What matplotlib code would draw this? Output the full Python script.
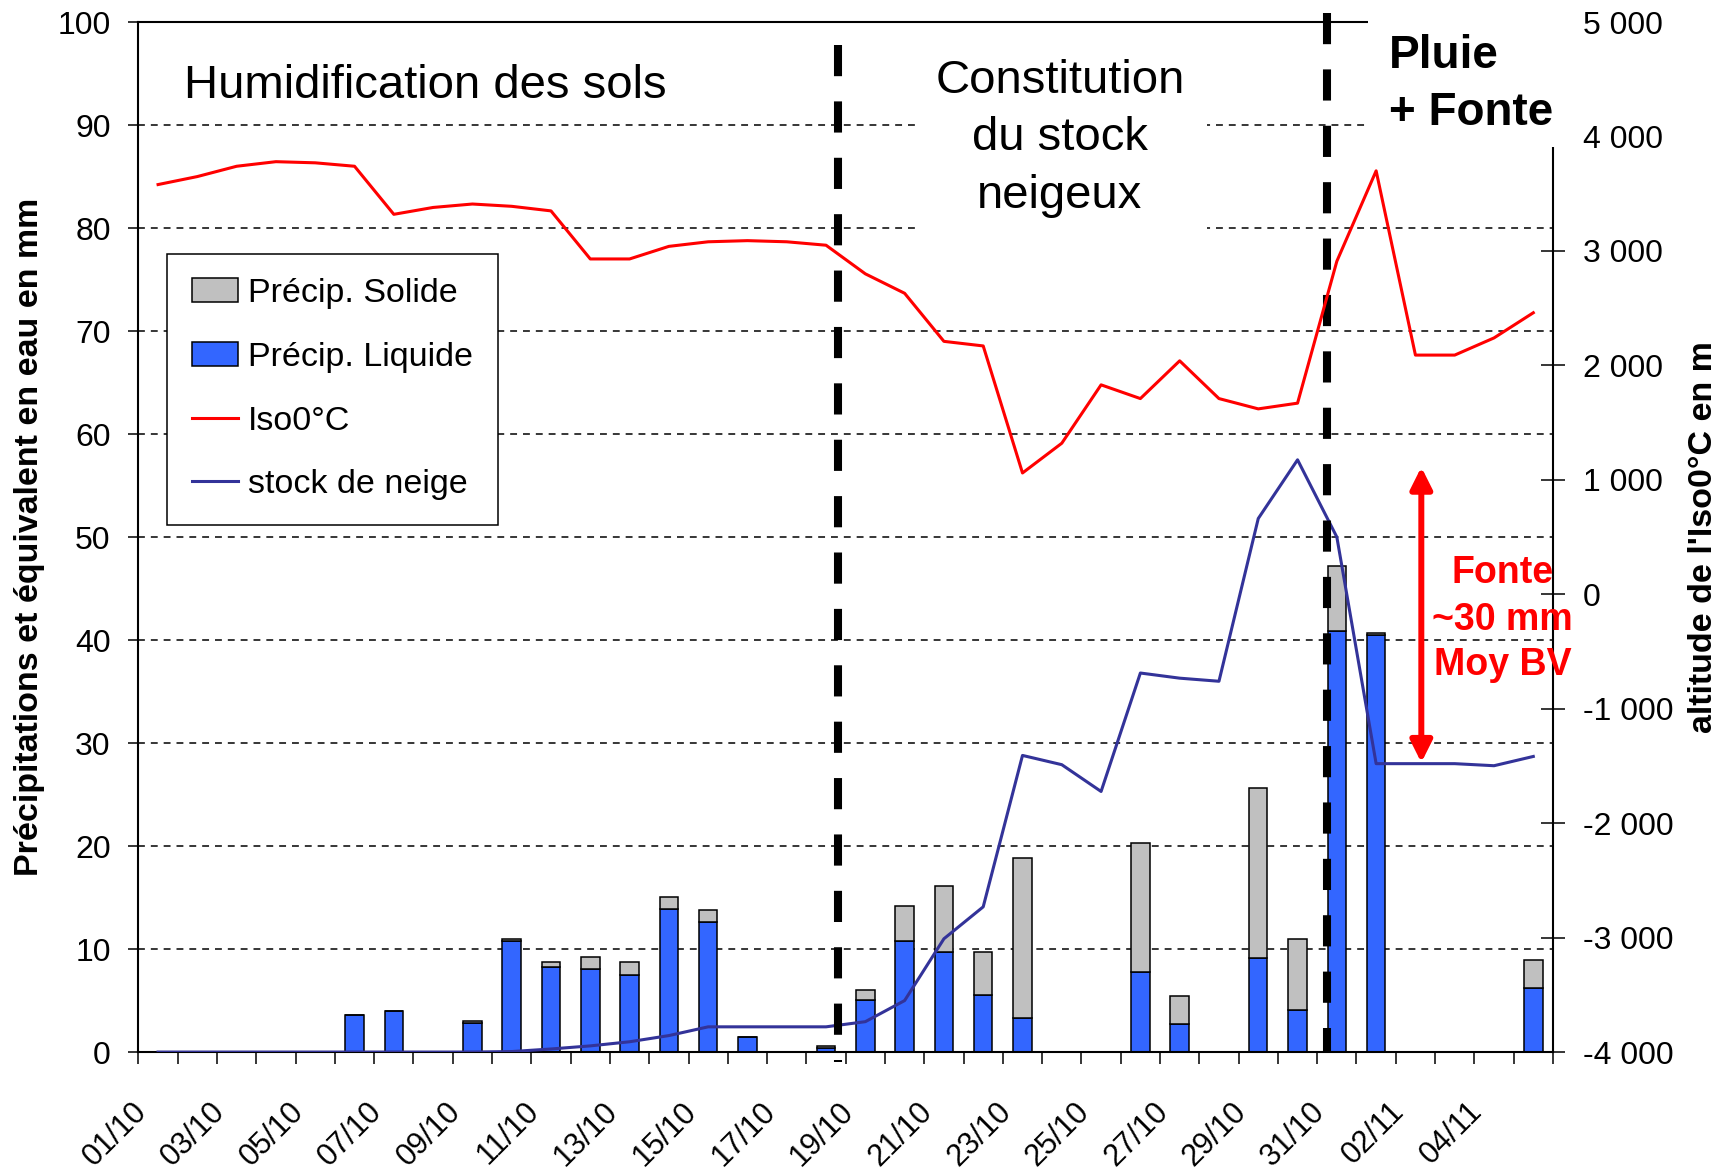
import matplotlib
matplotlib.use("Agg")
import matplotlib.pyplot as plt
import matplotlib.transforms as mtransforms
import numpy as np
from matplotlib.lines import Line2D
from matplotlib.patches import FancyArrowPatch, Patch, Rectangle
from matplotlib.ticker import FuncFormatter

plt.rcParams["font.family"] = ["Liberation Sans", "DejaVu Sans"]

# daily series, 01/10 -> 05/11
days = ["01/10", "02/10", "03/10", "04/10", "05/10", "06/10", "07/10", "08/10", "09/10",
        "10/10", "11/10", "12/10", "13/10", "14/10", "15/10", "16/10", "17/10", "18/10",
        "19/10", "20/10", "21/10", "22/10", "23/10", "24/10", "25/10", "26/10", "27/10",
        "28/10", "29/10", "30/10", "31/10", "01/11", "02/11", "03/11", "04/11", "05/11"]

# precipitation (mm)
precip_liquide = [0, 0, 0, 0, 0, 3.6, 4.0, 0, 2.8, 10.8, 8.3, 8.1, 7.5, 13.9, 12.6, 1.5, 0, 0.4,
                  5.05, 10.8, 9.7, 5.5, 3.3, 0, 0, 7.8, 2.7, 0, 9.1, 4.1, 40.9, 40.5, 0, 0, 0, 6.2]
precip_solide = [0, 0, 0, 0, 0, 0, 0, 0, 0.2, 0.2, 0.4, 1.15, 1.2, 1.2, 1.15, 0, 0, 0.15,
                 0.95, 3.4, 6.4, 4.2, 15.5, 0, 0, 12.5, 2.75, 0, 16.5, 6.9, 6.3, 0.2, 0, 0, 0, 2.7]

# snow stock (mm water equivalent)
stock_neige = [0, 0, 0, 0, 0, 0, 0, 0, 0, 0.05, 0.3, 0.6, 1.0, 1.6, 2.45, 2.45, 2.45, 2.45,
               2.95, 5.0, 11.0, 14.1, 28.8, 27.9, 25.3, 36.8, 36.3, 36.0, 51.8, 57.5, 50.0,
               28.0, 28.0, 28.0, 27.8, 28.7]

# freezing level altitude (m)
iso0 = [3580, 3650, 3740, 3780, 3770, 3740, 3320, 3380, 3410, 3390, 3350, 2930, 2930, 3040,
        3080, 3090, 3080, 3050, 2800, 2630, 2210, 2170, 1060, 1320, 1830, 1710, 2040, 1710,
        1620, 1670, 2910, 3700, 2090, 2090, 2240, 2460]

# phase separators (position on the day axis)
phase_breaks = [17.3, 29.75]

BLUE = "#3366FF"
GREY = "#C0C0C0"
NAVY = "#333399"
RED = "#FF0000"

fig = plt.figure(figsize=(17.28, 11.73), dpi=100)
ax = fig.add_axes([0.0801, 0.1031, 0.8186, 0.8781])
ax2 = ax.twinx()

x = np.arange(len(days))
ax.set_axisbelow(True)
ax.bar(x, precip_liquide, width=0.47, color=BLUE, edgecolor="black", linewidth=1.1, zorder=2)
ax.bar(x, precip_solide, bottom=precip_liquide, width=0.47, color=GREY,
       edgecolor="black", linewidth=1.1, zorder=2)
ax.plot(x, stock_neige, color=NAVY, lw=2.2, zorder=3)
ax2.plot(x, iso0, color=RED, lw=2.2)

ax.set_xlim(-0.5, len(days) - 0.5)
ax.set_ylim(0, 100)
ax2.set_ylim(-4000, 5000)

ax.grid(axis="y", color="black", linewidth=1.1, linestyle=(0, (4.5, 3.9)))
ax.grid(axis="x", visible=False)

# left axis
ax.set_yticks(range(0, 101, 10))
ax.tick_params(axis="y", direction="out", length=7, width=1.1, pad=13, labelsize=23)

# day ticks between categories, labels every second day drawn by hand
ax.set_xticks(np.arange(-0.5, len(days), 1), minor=True)
ax.set_xticks([])
ax.tick_params(axis="x", which="minor", direction="out", length=8.6, width=1.1)
lab_trans = mtransforms.blended_transform_factory(ax.transData, ax.transAxes) + \
    mtransforms.ScaledTranslation(-0.16, -0.55, fig.dpi_scale_trans)
for i in range(0, len(days), 2):
    ax.text(i, 0, days[i], transform=lab_trans, rotation=45, ha="right", va="center",
            rotation_mode="anchor", fontsize=22)

# right axis
ax2.set_yticks(range(-4000, 5001, 1000))
ax2.yaxis.set_major_formatter(FuncFormatter(lambda v, p: f"{v:,.0f}".replace(",", " ")))
ax2.tick_params(axis="y", direction="inout", length=16.6, width=1.1, pad=13, labelsize=23)

for s in ["left", "top", "bottom"]:
    ax.spines[s].set_linewidth(1.5)
    ax2.spines[s].set_visible(False)
ax.spines["right"].set_visible(False)
ax2.spines["right"].set_linewidth(1.5)

# phase separators
for xb, y_top, y_bot in zip(phase_breaks, [97.77, 100.87], [-0.97, -0.1]):
    ax.plot([xb, xb], [y_top, y_bot], color="black", lw=5.8, linestyle=(0, (3.87, 3.13)),
            dash_capstyle="butt", clip_on=False, zorder=4)

# phase titles
ax.text(0.66, 92.6, "Humidification des sols", fontsize=34, ha="left", va="baseline")
ax.add_patch(Rectangle((19.26, 76.0), 7.43, 24.0, facecolor="white", edgecolor="none", zorder=1))
for txt, yb in zip(["Constitution", "du stock", "neigeux"], [93.1, 87.6, 81.9]):
    ax.text(22.95, yb, txt, fontsize=34, ha="center", va="baseline", zorder=2)

fig.add_artist(Rectangle((0.7917, 0.8747), 0.1169, 0.13, transform=fig.transFigure,
                         facecolor="white", edgecolor="none", zorder=5))
fig.text(0.8036, 0.9418, "Pluie", fontsize=33, fontweight="bold", ha="left", va="baseline", zorder=6)
fig.text(0.8036, 0.8934, "+ Fonte", fontsize=33, fontweight="bold", ha="left", va="baseline", zorder=6)

# melt annotation
ax.add_patch(FancyArrowPatch((32.15, 56.8), (32.15, 28.1),
                             arrowstyle="<|-|>,head_length=13,head_width=6.5",
                             mutation_scale=1, color=RED, lw=4.3, shrinkA=0, shrinkB=0, zorder=4))
for txt, yb in zip(["Fonte", "~30 mm", "Moy BV"], [45.5, 41.0, 36.6]):
    ax2.text(34.22, yb, txt, transform=ax.transData, fontsize=27, fontweight="bold", color=RED,
             ha="center", va="baseline", zorder=6, clip_on=False)

# axis titles
fig.text(30 / 1728, 1 - 537 / 1173, "Précipitations et équivalent en eau en mm", rotation=90,
         ha="center", va="center", fontsize=24.5, fontweight="bold")
fig.text(1703 / 1728, 1 - 537 / 1173, "altitude de l'Iso0°C en m", rotation=90,
         ha="center", va="center", fontsize=24.5, fontweight="bold")

handles = [Patch(facecolor=GREY, edgecolor="black", linewidth=1.1),
           Patch(facecolor=BLUE, edgecolor="black", linewidth=1.1),
           Line2D([], [], color=RED, lw=2.2),
           Line2D([], [], color=NAVY, lw=2.2)]
labels = ["Précip. Solide", "Précip. Liquide", "Iso0°C", "stock de neige"]
leg = ax2.legend(handles, labels, loc="upper left", bbox_to_anchor=(0.0205, 0.775), fontsize=24.5,
                 frameon=True, fancybox=False, edgecolor="black", framealpha=1, borderpad=0.72,
                 labelspacing=0.96, handlelength=1.35, handleheight=0.7, handletextpad=0.3,
                 borderaxespad=0)
leg.get_frame().set_linewidth(1.1)

fig.savefig("out.png", dpi=100, facecolor="white")
